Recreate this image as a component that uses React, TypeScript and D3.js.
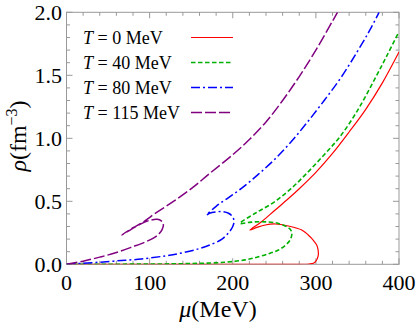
import React from "react";
import { scaleLinear, line, curveCatmullRom, range } from "d3";

// density vs chemical potential, four temperatures
const muT0 = [0, 100, 200, 280, 292, 297, 300, 302, 303, 302.5, 301, 297, 293, 283, 267, 251, 239, 230, 220.7, 235, 250, 265, 280, 300, 320, 340, 360, 380, 400];
const rhoT0 = [0, 0, 0, 0, 0.002, 0.008, 0.025, 0.05, 0.08, 0.12, 0.153, 0.19, 0.219, 0.272, 0.304, 0.32, 0.312, 0.295, 0.272, 0.34, 0.425, 0.51, 0.6, 0.73, 0.88, 1.05, 1.23, 1.44, 1.685];

const muT40 = [0, 100, 150, 190, 215, 231, 245, 255, 264, 269, 271, 270, 265, 258, 251, 240, 231, 220, 208.7, 227, 249, 270, 289, 310, 329, 350, 370, 385, 400];
const rhoT40 = [0, 0.002, 0.006, 0.016, 0.035, 0.06, 0.088, 0.113, 0.155, 0.193, 0.235, 0.27, 0.298, 0.318, 0.33, 0.337, 0.338, 0.333, 0.325, 0.405, 0.49, 0.6, 0.722, 0.87, 1.013, 1.22, 1.46, 1.65, 1.846];

const muT80 = [0, 30, 60, 90, 120, 140, 160, 175, 187, 195, 200, 201.5, 200, 195, 188, 180, 172, 168.6, 180, 195, 210, 230, 250, 270, 290, 310, 330, 350, 365, 376];
const rhoT80 = [0, 0.012, 0.027, 0.042, 0.068, 0.092, 0.125, 0.16, 0.2, 0.25, 0.3, 0.34, 0.375, 0.405, 0.418, 0.416, 0.405, 0.391, 0.46, 0.53, 0.6, 0.71, 0.83, 0.97, 1.13, 1.3, 1.48, 1.69, 1.86, 2.0];

const muT115 = [0, 20, 40, 60, 80, 95, 105, 111, 115, 116.5, 114, 109, 102, 94, 85, 76, 66.4, 80, 92, 108, 130, 152, 172, 200, 220, 240, 260, 280, 300, 320, 326];
const rhoT115 = [0, 0.025, 0.057, 0.093, 0.14, 0.178, 0.21, 0.24, 0.275, 0.315, 0.345, 0.357, 0.352, 0.335, 0.305, 0.27, 0.233, 0.29, 0.335, 0.41, 0.505, 0.61, 0.72, 0.87, 0.99, 1.13, 1.3, 1.49, 1.7, 1.93, 2.0];

const legendLabels = ["0", "40", "80", "115"];
const colors = ["#ff0000", "#00b000", "#0000ff", "#800080"];
const dashes = ["none", "4.5,2.5", "9,3,2,3", "11,3"];
const widths = [1.2, 1.6, 1.5, 1.5];

const xTicks = [0, 100, 200, 300, 400];
const yTicks = [0, 0.5, 1.0, 1.5, 2.0];

const left = 66.5, right = 399, top = 12.3, bottom = 264.3;
const font = "'Liberation Serif', 'Times New Roman', serif";

export default function App() {
  const x = scaleLinear().domain([0, 400]).range([left, right]);
  const y = scaleLinear().domain([0, 2]).range([bottom, top]);
  const gen = line<number[]>().x((d) => x(d[0])).y((d) => y(d[1])).curve(curveCatmullRom.alpha(0.5));

  const series = [
    [muT0, rhoT0],
    [muT40, rhoT40],
    [muT80, rhoT80],
    [muT115, rhoT115],
  ].map(([m, r]) => m.map((v, i) => [v, r[i]]));

  const xMinor = range(0, 401, 20).filter((v) => v % 100 !== 0);
  const yMinor = range(0, 21, 1).map((v) => v / 10).filter((v) => Math.round(v * 10) % 5 !== 0);
  const tc = "#999";

  return (
    <svg width={416} height={326} style={{ position: "absolute", left: 0, top: 0 }}>
      <rect width={416} height={326} fill="white" />
      <defs>
        <clipPath id="plot">
          <rect x={left} y={top} width={right - left} height={bottom - top} />
        </clipPath>
      </defs>
      {/* frame + ticks */}
      <rect x={left} y={top} width={right - left} height={bottom - top} fill="none" stroke={tc} strokeWidth={1} />
      {xTicks.map((t) => (
        <g key={"xt" + t}>
          <line x1={x(t)} x2={x(t)} y1={bottom} y2={bottom - 6} stroke={tc} />
          <line x1={x(t)} x2={x(t)} y1={top} y2={top + 6} stroke={tc} />
        </g>
      ))}
      {xMinor.map((t) => (
        <g key={"xm" + t}>
          <line x1={x(t)} x2={x(t)} y1={bottom} y2={bottom - 3.5} stroke={tc} />
          <line x1={x(t)} x2={x(t)} y1={top} y2={top + 3.5} stroke={tc} />
        </g>
      ))}
      {yTicks.map((t) => (
        <g key={"yt" + t}>
          <line x1={left} x2={left + 6} y1={y(t)} y2={y(t)} stroke={tc} />
          <line x1={right} x2={right - 6} y1={y(t)} y2={y(t)} stroke={tc} />
        </g>
      ))}
      {yMinor.map((t) => (
        <g key={"ym" + t}>
          <line x1={left} x2={left + 3.5} y1={y(t)} y2={y(t)} stroke={tc} />
          <line x1={right} x2={right - 3.5} y1={y(t)} y2={y(t)} stroke={tc} />
        </g>
      ))}

      {/* curves */}
      <g clipPath="url(#plot)">
        {series.map((pts, i) => (
          <path key={i} d={gen(pts) || ""} fill="none" stroke={colors[i]} strokeWidth={widths[i]} strokeDasharray={dashes[i]} />
        ))}
      </g>

      {/* tick labels */}
      {xTicks.map((t) => (
        <text key={"xl" + t} x={x(t)} y={290} textAnchor="middle" fontFamily={font} fontSize={22}>
          {t}
        </text>
      ))}
      {yTicks.map((t) => (
        <text key={"yl" + t} x={62} y={y(t) + 7.5} textAnchor="end" fontFamily={font} fontSize={22}>
          {t.toFixed(1)}
        </text>
      ))}

      {/* axis labels */}
      <text x={218} y={317} textAnchor="middle" fontFamily={font} fontSize={24}>
        <tspan fontStyle="italic">μ</tspan>(MeV)
      </text>
      <text transform="translate(26,136) rotate(-90)" textAnchor="middle" fontFamily={font} fontSize={24}>
        <tspan fontStyle="italic">ρ</tspan>(fm
        <tspan fontSize={16} dy={-9}>−3</tspan>
        <tspan dy={9}>)</tspan>
      </text>

      {/* legend */}
      {legendLabels.map((lab, i) => (
        <g key={"lg" + i}>
          <text x={83} y={44 + i * 25} fontFamily={font} fontSize={18}>
            <tspan fontStyle="italic">T</tspan>
            {" = " + lab + " MeV"}
          </text>
          <line x1={191} x2={233} y1={37.5 + i * 25} y2={37.5 + i * 25} stroke={colors[i]} strokeWidth={widths[i]} strokeDasharray={dashes[i]} />
        </g>
      ))}
    </svg>
  );
}
